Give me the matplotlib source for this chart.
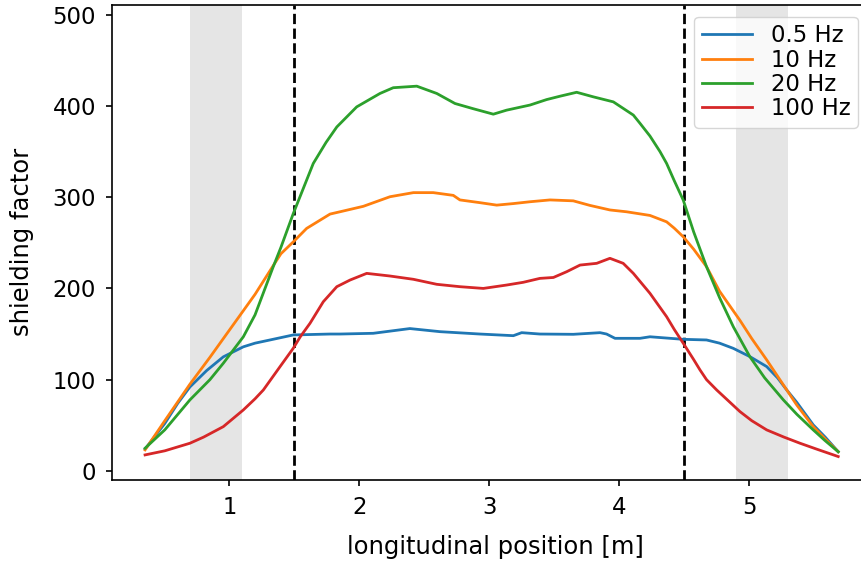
#Shielding factor along the longitudinal position for several frequencies

import matplotlib
matplotlib.use("Agg")
import matplotlib.pyplot as plt

#Positions [m] and shielding factor
x_05 = [0.352, 0.504, 0.603, 0.697, 0.826, 0.954, 1.108, 1.198, 1.313, 1.492, 1.775, 1.851,
        2.107, 2.389, 2.620, 2.928, 3.185, 3.249, 3.389, 3.646, 3.852, 3.902, 3.967, 4.159,
        4.236, 4.492, 4.671, 4.771, 4.877, 5.005, 5.134, 5.217, 5.288, 5.366, 5.492, 5.584,
        5.684]
y_05 = [24, 52, 74, 92, 110, 125, 136, 140, 143.5, 149, 150, 150,
        150.8, 156, 152.6, 150, 148.2, 151.5, 150, 149.7, 151.5, 150, 145.3, 145.3,
        147, 144.2, 143.5, 140, 134.3, 125.2, 114.3, 102, 88.7, 75, 50.4, 37,
        21]

x_10 = [0.352, 0.504, 0.697, 0.851, 0.954, 1.108, 1.198, 1.338, 1.397, 1.492, 1.595, 1.775,
        1.851, 2.031, 2.236, 2.416, 2.569, 2.723, 2.774, 2.928, 3.057, 3.185, 3.313, 3.467,
        3.646, 3.774, 3.928, 4.056, 4.236, 4.364, 4.423, 4.492, 4.572, 4.671, 4.771, 4.928,
        5.019, 5.134, 5.288, 5.366, 5.492, 5.584, 5.684]
y_10 = [23, 55, 95, 124.5, 145, 175.6, 193.5, 225, 238, 251, 265.8, 281.5,
        284, 290, 300.5, 305, 305, 302, 297, 294, 291.3, 293, 295, 297,
        296, 291, 286, 284, 280, 273, 266, 256.6, 243, 223.8, 197, 165,
        145, 121.6, 88.7, 72, 48.5, 35, 21]

x_20 = [0.352, 0.504, 0.697, 0.851, 0.954, 1.108, 1.198, 1.338, 1.397, 1.492, 1.646, 1.744,
        1.827, 1.980, 2.159, 2.261, 2.442, 2.596, 2.736, 2.876, 3.031, 3.133, 3.313, 3.441,
        3.544, 3.672, 3.800, 3.954, 4.108, 4.159, 4.236, 4.313, 4.364, 4.423, 4.492, 4.572,
        4.671, 4.771, 4.877, 5.005, 5.118, 5.262, 5.366, 5.492, 5.584, 5.684]
y_20 = [24.8, 45, 77.8, 100, 118, 147, 171, 223.8, 245, 282, 337, 360,
        377, 399, 413.7, 420, 421.7, 413.7, 402.7, 397, 391, 395.4, 401, 407,
        410.7, 415, 410, 404.5, 390, 381, 367, 350, 337, 318, 296.8, 262,
        223.8, 190, 158, 125, 102, 77.8, 62, 44.9, 33, 21]

x_100 = [0.352, 0.504, 0.697, 0.802, 0.954, 1.108, 1.198, 1.262, 1.390, 1.492, 1.546, 1.621,
         1.723, 1.827, 1.929, 2.057, 2.236, 2.416, 2.596, 2.774, 2.954, 3.133, 3.261, 3.389,
         3.493, 3.595, 3.698, 3.826, 3.928, 4.030, 4.108, 4.236, 4.364, 4.423, 4.492, 4.572,
         4.621, 4.671, 4.749, 4.928, 5.019, 5.134, 5.267, 5.390, 5.515, 5.684]
y_100 = [17.5, 22, 30.3, 37, 48.5, 66.8, 79, 88.7, 114.2, 134.4, 147, 161.8,
         185.4, 201.9, 209.2, 216.5, 213.6, 210, 204.5, 201.9, 200, 203.7, 206.7, 211,
         212, 218.3, 225.6, 227.5, 233, 227.5, 216.5, 194.6, 169, 155, 139.9, 122,
         110.6, 100, 88.7, 65, 55, 44.9, 37, 30.3, 24, 15.7]

labels = ["0.5 Hz", "10 Hz", "20 Hz", "100 Hz"]
shaded_regions = [(0.7, 1.1), (4.9, 5.3)]
boundaries = [1.5, 4.5]

plt.rcParams["font.size"] = 16.4

fig = plt.figure(figsize=(8.61, 5.63), dpi=100)
ax = fig.add_axes([112.3 / 861, 83 / 563, 765.7 / 861, 475.3 / 563])

#Shaded regions and boundary lines
for start, end in shaded_regions:
    ax.axvspan(start, end, color="gray", alpha=0.2, lw=0)
for b in boundaries:
    ax.axvline(b, color="black", linestyle="--", lw=2.0)

lw = 2.0
ax.plot(x_05, y_05, color="tab:blue", lw=lw, label=labels[0])
ax.plot(x_10, y_10, color="tab:orange", lw=lw, label=labels[1])
ax.plot(x_20, y_20, color="tab:green", lw=lw, label=labels[2])
ax.plot(x_100, y_100, color="tab:red", lw=lw, label=labels[3])

ax.set_xlim(0.1, 5.99)
ax.set_ylim(-10, 511)
ax.set_xticks([1, 2, 3, 4, 5])
ax.set_yticks([0, 100, 200, 300, 400, 500])
ax.tick_params(length=4.3, width=1.2, pad=7.5)
for spine in ax.spines.values():
    spine.set_linewidth(1.2)

ax.set_xlabel("longitudinal position [m]", fontsize=17.5, labelpad=11)
ax.set_ylabel("shielding factor", fontsize=17.5, labelpad=13)

ax.legend(loc="upper right", bbox_to_anchor=(858 / 861, 1 - 16.7 / 563),
          bbox_transform=fig.transFigure, borderaxespad=0,
          labelspacing=0.05, borderpad=0.34, handlelength=2.2)

plt.savefig("out.png", dpi=100)
